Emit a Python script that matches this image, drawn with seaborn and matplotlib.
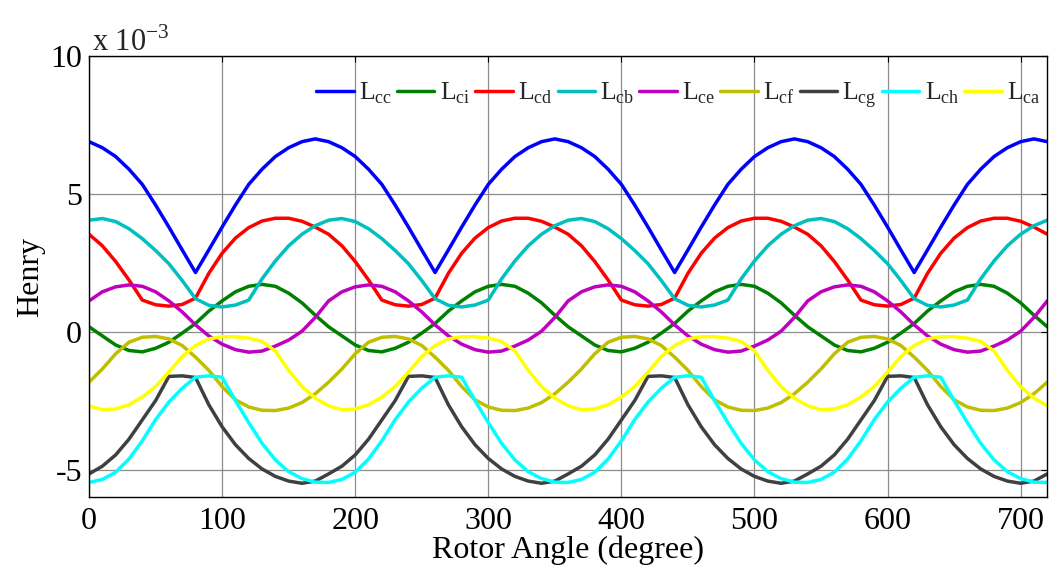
import numpy as np
import matplotlib
matplotlib.use('Agg')
import matplotlib.pyplot as plt
import seaborn as sns

# rotor angle in degrees, sampled every 10 deg
angle = np.arange(0, 721, 10)

# inductances in units of 1e-3 H (one row = 180 deg)
lcc = [6.9, 6.68, 6.36, 5.9, 5.35, 4.6, 3.8, 2.97, 2.15, 2.97, 3.8, 4.6, 5.35, 5.9, 6.36, 6.68, 6.9, 7.0,
       6.9, 6.68, 6.36, 5.9, 5.35, 4.6, 3.8, 2.97, 2.15, 2.97, 3.8, 4.6, 5.35, 5.9, 6.36, 6.68, 6.9, 7.0,
       6.9, 6.68, 6.36, 5.9, 5.35, 4.6, 3.8, 2.97, 2.15, 2.97, 3.8, 4.6, 5.35, 5.9, 6.36, 6.68, 6.9, 7.0,
       6.9, 6.68, 6.36, 5.9, 5.35, 4.6, 3.8, 2.97, 2.15, 2.97, 3.8, 4.6, 5.35, 5.9, 6.36, 6.68, 6.9, 7.0,
       6.9]
lci = [0.18, -0.15, -0.48, -0.68, -0.73, -0.6, -0.38, -0.05, 0.3, 0.75, 1.12, 1.45, 1.65, 1.72, 1.65, 1.4, 1.05, 0.6,
       0.18, -0.15, -0.48, -0.68, -0.73, -0.6, -0.38, -0.05, 0.3, 0.75, 1.12, 1.45, 1.65, 1.72, 1.65, 1.4, 1.05, 0.6,
       0.18, -0.15, -0.48, -0.68, -0.73, -0.6, -0.38, -0.05, 0.3, 0.75, 1.12, 1.45, 1.65, 1.72, 1.65, 1.4, 1.05, 0.6,
       0.18, -0.15, -0.48, -0.68, -0.73, -0.6, -0.38, -0.05, 0.3, 0.75, 1.12, 1.45, 1.65, 1.72, 1.65, 1.4, 1.05, 0.6,
       0.18]
lcd = [3.54, 3.12, 2.55, 1.88, 1.15, 0.98, 0.93, 0.99, 1.22, 2.12, 2.85, 3.4, 3.78, 4.02, 4.12, 4.12, 4.01, 3.8,
       3.54, 3.12, 2.55, 1.88, 1.15, 0.98, 0.93, 0.99, 1.22, 2.12, 2.85, 3.4, 3.78, 4.02, 4.12, 4.12, 4.01, 3.8,
       3.54, 3.12, 2.55, 1.88, 1.15, 0.98, 0.93, 0.99, 1.22, 2.12, 2.85, 3.4, 3.78, 4.02, 4.12, 4.12, 4.01, 3.8,
       3.54, 3.12, 2.55, 1.88, 1.15, 0.98, 0.93, 0.99, 1.22, 2.12, 2.85, 3.4, 3.78, 4.02, 4.12, 4.12, 4.01, 3.8,
       3.54]
lcb = [4.05, 4.11, 4.0, 3.74, 3.38, 2.95, 2.47, 1.86, 1.2, 0.96, 0.9, 0.97, 1.15, 1.92, 2.57, 3.12, 3.54, 3.85,
       4.05, 4.11, 4.0, 3.74, 3.38, 2.95, 2.47, 1.86, 1.2, 0.96, 0.9, 0.97, 1.15, 1.92, 2.57, 3.12, 3.54, 3.85,
       4.05, 4.11, 4.0, 3.74, 3.38, 2.95, 2.47, 1.86, 1.2, 0.96, 0.9, 0.97, 1.15, 1.92, 2.57, 3.12, 3.54, 3.85,
       4.05, 4.11, 4.0, 3.74, 3.38, 2.95, 2.47, 1.86, 1.2, 0.96, 0.9, 0.97, 1.15, 1.92, 2.57, 3.12, 3.54, 3.85,
       4.05]
lce = [1.12, 1.45, 1.63, 1.7, 1.65, 1.45, 1.12, 0.72, 0.25, -0.15, -0.45, -0.65, -0.74, -0.7, -0.52, -0.3, 0.02, 0.52,
       1.12, 1.45, 1.63, 1.7, 1.65, 1.45, 1.12, 0.72, 0.25, -0.15, -0.45, -0.65, -0.74, -0.7, -0.52, -0.3, 0.02, 0.52,
       1.12, 1.45, 1.63, 1.7, 1.65, 1.45, 1.12, 0.72, 0.25, -0.15, -0.45, -0.65, -0.74, -0.7, -0.52, -0.3, 0.02, 0.52,
       1.12, 1.45, 1.63, 1.7, 1.65, 1.45, 1.12, 0.72, 0.25, -0.15, -0.45, -0.65, -0.74, -0.7, -0.52, -0.3, 0.02, 0.52,
       1.12]
lcf = [-1.83, -1.35, -0.8, -0.38, -0.2, -0.17, -0.26, -0.5, -0.92, -1.4, -1.99, -2.47, -2.73, -2.85, -2.86, -2.77, -2.57, -2.25,
       -1.83, -1.35, -0.8, -0.38, -0.2, -0.17, -0.26, -0.5, -0.92, -1.4, -1.99, -2.47, -2.73, -2.85, -2.86, -2.77, -2.57, -2.25,
       -1.83, -1.35, -0.8, -0.38, -0.2, -0.17, -0.26, -0.5, -0.92, -1.4, -1.99, -2.47, -2.73, -2.85, -2.86, -2.77, -2.57, -2.25,
       -1.83, -1.35, -0.8, -0.38, -0.2, -0.17, -0.26, -0.5, -0.92, -1.4, -1.99, -2.47, -2.73, -2.85, -2.86, -2.77, -2.57, -2.25,
       -1.83]
lcg = [-5.16, -4.88, -4.47, -3.9, -3.2, -2.5, -1.62, -1.6, -1.66, -2.65, -3.45, -4.1, -4.6, -4.98, -5.25, -5.42, -5.5, -5.42,
       -5.16, -4.88, -4.47, -3.9, -3.2, -2.5, -1.62, -1.6, -1.66, -2.65, -3.45, -4.1, -4.6, -4.98, -5.25, -5.42, -5.5, -5.42,
       -5.16, -4.88, -4.47, -3.9, -3.2, -2.5, -1.62, -1.6, -1.66, -2.65, -3.45, -4.1, -4.6, -4.98, -5.25, -5.42, -5.5, -5.42,
       -5.16, -4.88, -4.47, -3.9, -3.2, -2.5, -1.62, -1.6, -1.66, -2.65, -3.45, -4.1, -4.6, -4.98, -5.25, -5.42, -5.5, -5.42,
       -5.16]
lch = [-5.47, -5.36, -5.1, -4.62, -3.96, -3.19, -2.55, -2.05, -1.65, -1.6, -1.65, -2.5, -3.3, -4.05, -4.65, -5.08, -5.33, -5.46,
       -5.47, -5.36, -5.1, -4.62, -3.96, -3.19, -2.55, -2.05, -1.65, -1.6, -1.65, -2.5, -3.3, -4.05, -4.65, -5.08, -5.33, -5.46,
       -5.47, -5.36, -5.1, -4.62, -3.96, -3.19, -2.55, -2.05, -1.65, -1.6, -1.65, -2.5, -3.3, -4.05, -4.65, -5.08, -5.33, -5.46,
       -5.47, -5.36, -5.1, -4.62, -3.96, -3.19, -2.55, -2.05, -1.65, -1.6, -1.65, -2.5, -3.3, -4.05, -4.65, -5.08, -5.33, -5.46,
       -5.47]
lca = [-2.69, -2.83, -2.8, -2.65, -2.37, -1.99, -1.46, -0.9, -0.5, -0.26, -0.18, -0.18, -0.23, -0.35, -0.7, -1.4, -1.99, -2.41,
       -2.69, -2.83, -2.8, -2.65, -2.37, -1.99, -1.46, -0.9, -0.5, -0.26, -0.18, -0.18, -0.23, -0.35, -0.7, -1.4, -1.99, -2.41,
       -2.69, -2.83, -2.8, -2.65, -2.37, -1.99, -1.46, -0.9, -0.5, -0.26, -0.18, -0.18, -0.23, -0.35, -0.7, -1.4, -1.99, -2.41,
       -2.69, -2.83, -2.8, -2.65, -2.37, -1.99, -1.46, -0.9, -0.5, -0.26, -0.18, -0.18, -0.23, -0.35, -0.7, -1.4, -1.99, -2.41,
       -2.69]

series = [lcc, lci, lcd, lcb, lce, lcf, lcg, lch, lca]
subs = ['cc', 'ci', 'cd', 'cb', 'ce', 'cf', 'cg', 'ch', 'ca']
colors = ['#0000ff', '#008000', '#ff0000', '#00bfbf', '#bf00bf', '#bfbf00', '#404040', '#00ffff', '#ffff00']

sns.set_theme(style='white')
plt.rcParams['font.family'] = ['Liberation Serif', 'DejaVu Serif']
plt.rcParams['mathtext.fontset'] = 'custom'
plt.rcParams['mathtext.rm'] = 'Liberation Serif'
plt.rcParams['axes.unicode_minus'] = False

fig = plt.figure(figsize=(10.6, 5.8), dpi=100)
ax = fig.add_axes([0.084, 0.143, 0.904, 0.760])

for vals, sub, col in zip(series, subs, colors):
    sns.lineplot(x=angle, y=vals, color=col, linewidth=2.5,
                 label=r'L$_{\mathregular{%s}}$' % sub, ax=ax)

ax.set_xlim(0, 720)
ax.set_ylim(-6, 10)
ax.set_xticks(range(0, 701, 100))
ax.set_yticks([-5, 0, 5, 10])
ax.set_yticklabels(['-5', '0', '5', '10'])
ax.tick_params(direction='in', top=True, right=True, length=4, width=0.8,
               labelsize=23, colors='black')
ax.tick_params(axis='x', pad=7)
ax.tick_params(axis='y', pad=5)
ax.grid(True, color='#8c8c8c', linewidth=0.9)
ax.set_axisbelow(True)
for sp in ax.spines.values():
    sp.set_color('black')
    sp.set_linewidth(1.0)

ax.set_xlabel('Rotor Angle (degree)', fontsize=23, labelpad=0, color='black')
ax.set_ylabel('Henry', fontsize=23, labelpad=4, color='black')
ax.text(0.003, 1.013, r'x 10$^{\mathregular{-3}}$', transform=ax.transAxes,
        fontsize=22, ha='left', va='baseline')

ax.legend(ncol=9, loc='center right', bbox_to_anchor=(0.993, 0.912),
          frameon=False, fontsize=18.5, handlelength=1.45, handletextpad=0.2,
          columnspacing=0.2, borderaxespad=0, borderpad=0)

fig.savefig('out.png', dpi=100)
